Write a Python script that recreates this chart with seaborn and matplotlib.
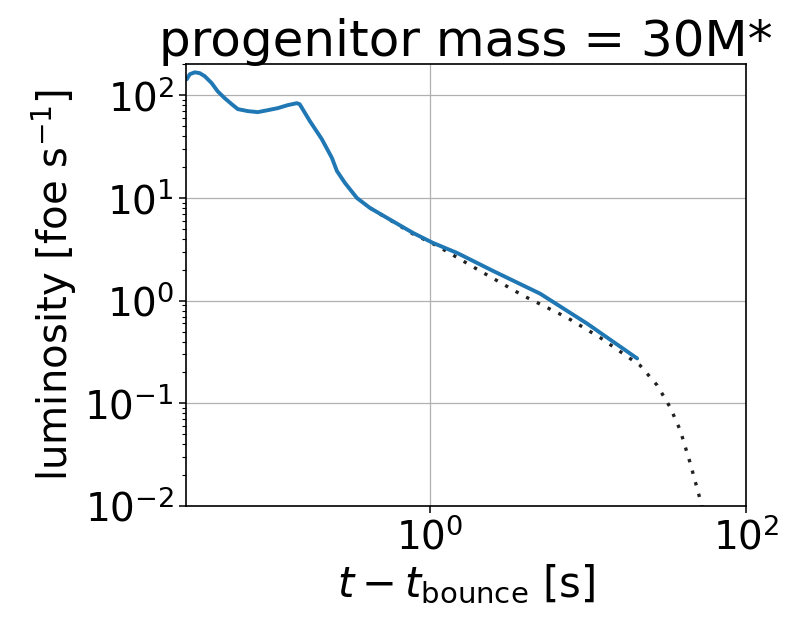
import numpy as np
import pandas as pd
import matplotlib
matplotlib.use("Agg")
import matplotlib.pyplot as plt
from matplotlib.ticker import NullLocator
import seaborn as sns

# simulated luminosity curve (solid)
t_sim = [0.029, 0.0303, 0.0326, 0.035, 0.0377, 0.0417, 0.0455, 0.0504, 0.0558,
         0.061, 0.0705, 0.0815, 0.0944, 0.109, 0.126, 0.144, 0.150, 0.174,
         0.207, 0.240, 0.258, 0.290, 0.345, 0.417, 0.535, 0.78, 1.04, 1.48,
         2.5, 4.97, 9.85, 20.4]
lum_sim = [143, 160, 167, 164, 153, 131, 109, 93.5, 81.8,
           73.2, 70.0, 68.4, 71.5, 74.8, 80.0, 83.6, 81.8, 56.0,
           37.4, 24.5, 18.3, 14.0, 10.0, 8.0, 6.4, 4.57, 3.66, 2.92,
           1.95, 1.17, 0.598, 0.274]

# fitted / extrapolated curve (dotted)
t_fit = [0.417, 0.78, 1.11, 2.07, 3.88, 7.36, 11.9, 21.3, 27.3, 33.0,
         38.2, 44.2, 51.2, 55.0]
lum_fit = [8.0, 4.47, 3.42, 1.95, 1.12, 0.684, 0.437, 0.234, 0.150, 0.0915,
           0.0547, 0.0261, 0.0114, 0.0073]

sns.set_style("white")
plt.rcParams["font.family"] = ["DejaVu Sans"]
for key in ["text.color", "axes.labelcolor", "xtick.color", "ytick.color"]:
    plt.rcParams[key] = "black"

fig = plt.figure(figsize=(7.94, 6.18), dpi=100)
ax = fig.add_axes([0.234, 0.181, 0.706, 0.715])

sim = pd.DataFrame({"t": t_sim, "L": lum_sim})
fit = pd.DataFrame({"t": t_fit, "L": lum_fit})

sns.lineplot(data=fit, x="t", y="L", ax=ax, color="#222222", linewidth=2.4,
             linestyle=(0, (1, 2.6)), sort=False, estimator=None)
sns.lineplot(data=sim, x="t", y="L", ax=ax, color="#1f77b4", linewidth=2.8,
             sort=False, estimator=None)

ax.set_xscale("log")
ax.set_yscale("log")
ax.set_xlim(0.0286, 100)
ax.set_ylim(0.01, 200)
ax.set_xticks([1, 100])
ax.xaxis.set_minor_locator(NullLocator())

ax.grid(True, which="major", color="#b0b0b0", linewidth=0.9)
for s in ax.spines.values():
    s.set_color("black")
    s.set_linewidth(1.2)
ax.tick_params(axis="both", which="major", labelsize=28, length=5, width=1.1,
               direction="out", left=True, bottom=True)
ax.tick_params(axis="y", which="minor", length=3, width=0.8, left=True)

ax.set_xlabel(r"$t - t_{\mathrm{bounce}}$ [s]", fontsize=30)
ax.set_ylabel(r"luminosity [foe s$^{-1}$]", fontsize=29)
ax.set_title("progenitor mass = 30M*", fontsize=36)

fig.savefig("out.png", dpi=100)
